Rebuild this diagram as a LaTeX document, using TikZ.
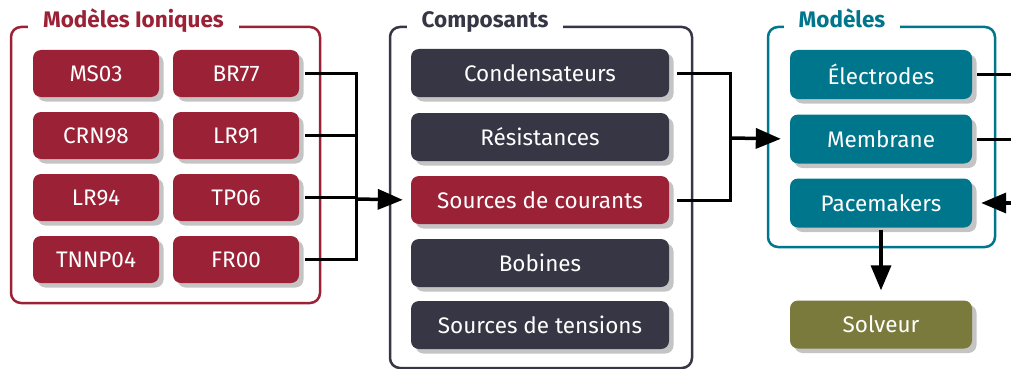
\documentclass[tikz,border=0pt]{standalone}
\usepackage{fontspec}
\setmainfont{Fira Sans}
\usetikzlibrary{shadows,arrows.meta}
\definecolor{cred}{HTML}{9B2236}
\definecolor{cdark}{HTML}{363644}
\definecolor{cteal}{HTML}{00768C}
\definecolor{colive}{HTML}{7A7A3C}
\definecolor{cshadow}{HTML}{C4C4C4}
\tikzset{
  box/.style={rounded corners=8pt, text=white, inner sep=0pt, minimum height=47pt,
    font=\fontsize{22.5}{26}\selectfont,
    general shadow={fill=cshadow, shadow xshift=4.5pt, shadow yshift=-4.5pt}},
  redbox/.style={box, fill=cred, minimum width=126pt},
  darkbox/.style={box, fill=cdark, minimum width=258pt, minimum height=48pt},
  tealbox/.style={box, fill=cteal, minimum width=182pt, minimum height=49pt},
  olivebox/.style={box, fill=colive, minimum width=182pt, minimum height=48pt},
  frame/.style={line width=2.5pt, rounded corners=10pt},
  grouptitle/.style={fill=white, inner xsep=15pt, inner ysep=3pt, anchor=base,
    font=\fontsize{22.5}{26}\bfseries\selectfont},
  conn/.style={line width=3pt},
  arr/.style={line width=3.5pt, -{Triangle[length=25pt,width=20pt]}},
}
\begin{document}
\begin{tikzpicture}[x=1pt,y=-1pt]
\useasboundingbox (0,0) rectangle (1011,369);
% frames
\draw[frame, cred] (11,27) rectangle (320,303);
\draw[frame, cdark] (390,27) rectangle (692,368);
\draw[frame, cteal] (768,27) rectangle (995,247);
\node[grouptitle, text=cred] (tL) at (133.5,28) {Modèles Ioniques};
\node[grouptitle, text=cdark] (tM) at (485,28) {Composants};
\node[grouptitle, text=cteal] (tR) at (842,28) {Modèles};
% left boxes
\node[redbox] (MS03) at (96,73.5) {MS03};
\node[redbox] (BR77) at (236,73.5) {BR77};
\node[redbox] (CRN98) at (96,135.5) {CRN98};
\node[redbox] (LR91) at (236,135.5) {LR91};
\node[redbox] (LR94) at (96,197.5) {LR94};
\node[redbox] (TP06) at (236,197.5) {TP06};
\node[redbox] (TNNP04) at (96,259.5) {TNNP04};
\node[redbox] (FR00) at (236,259.5) {FR00};
% middle boxes
\node[darkbox] (Cond) at (540,73) {Condensateurs};
\node[darkbox] (Res) at (540,137) {Résistances};
\node[redbox, minimum width=258pt, minimum height=48pt] (SdC) at (540,200) {Sources de courants};
\node[darkbox] (Bob) at (540,263) {Bobines};
\node[darkbox] (SdT) at (540,325) {Sources de tensions};
% right boxes
\node[tealbox] (Elec) at (881,74.5) {Électrodes};
\node[tealbox] (Memb) at (881,139) {Membrane};
\node[tealbox] (Pace) at (881,203) {Pacemakers};
\node[olivebox] (Solv) at (881,324.5) {Solveur};
% connectors
\coordinate (jL) at (356,199);
\coordinate (jM) at (730,138);
\coordinate (oE) at (1011,74.5);
\coordinate (oM) at (1011,139);
\coordinate (oP) at (1011,203);
\draw[conn, shorten <=6pt] (BR77.east) -| (jL);
\draw[conn, shorten <=6pt] (FR00.east) -| (jL);
\draw[conn, shorten <=6pt] (LR91.east) -- (LR91.east -| jL);
\draw[conn, shorten <=6pt] (TP06.east) -- (TP06.east -| jL);
\draw[arr, shorten >=8pt] (jL) -- (SdC.west);
\draw[conn, shorten <=8pt] (Cond.east) -| (jM);
\draw[conn, shorten <=8pt] (SdC.east) -| (jM);
\draw[arr, shorten >=9pt] (jM) -- (Memb.west);
\draw[conn, shorten <=5pt] (Elec.east) -- (oE);
\draw[conn, shorten <=5pt] (Memb.east) -- (oM);
\draw[arr, shorten >=9pt] (oP) -- (Pace.east);
\draw[arr, shorten <=2pt, shorten >=10pt] (Pace.south) -- (Solv.north);
\end{tikzpicture}
\end{document}
